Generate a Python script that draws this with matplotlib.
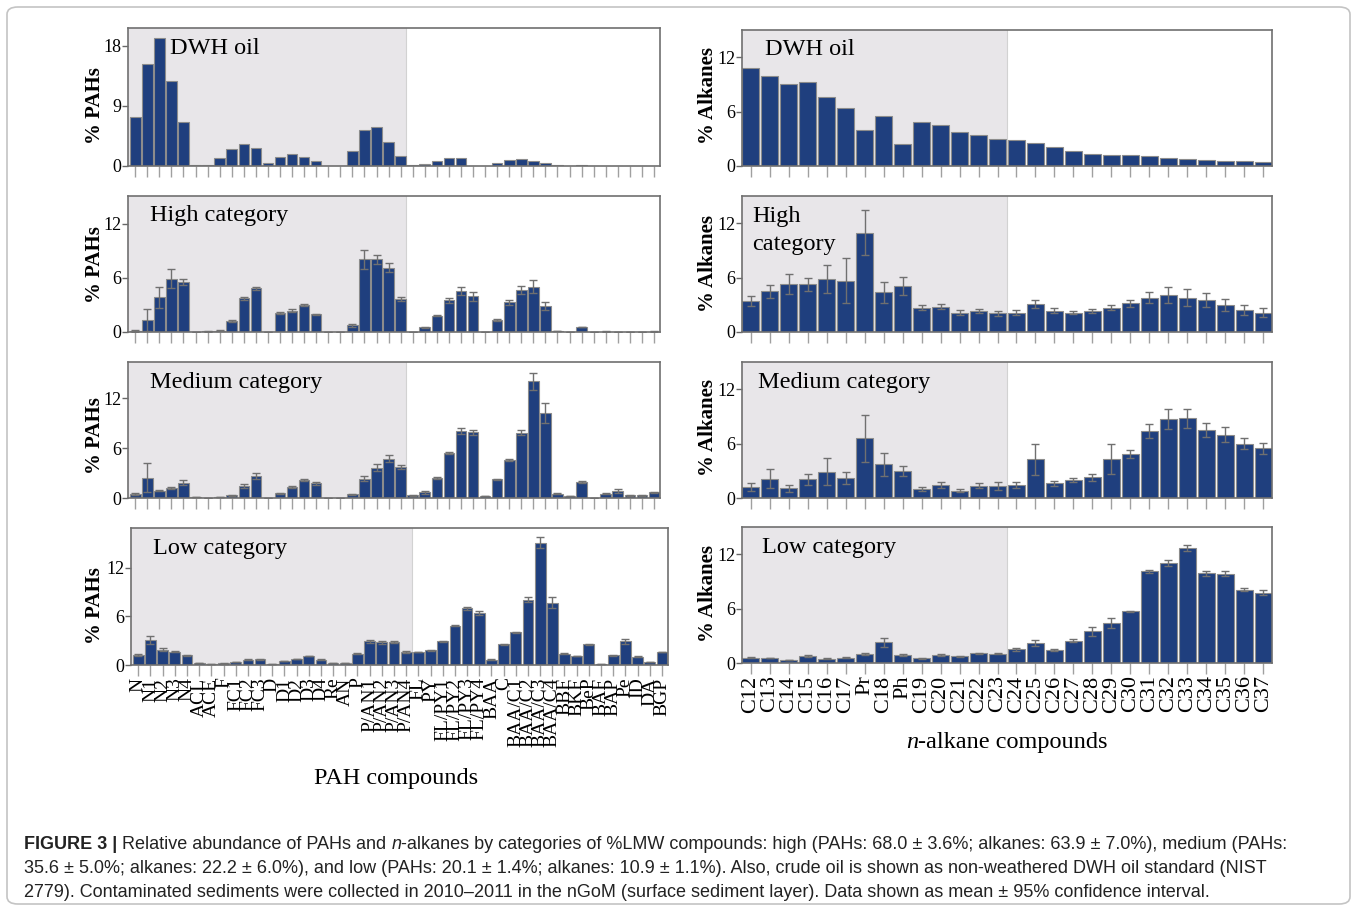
import numpy as np
import matplotlib.pyplot as plt
from matplotlib.patches import FancyBboxPatch

# compound names
pah_labels = ['N', 'N1', 'N2', 'N3', 'N4', 'ACL', 'ACE', 'F', 'FC1', 'FC2', 'FC3',
              'D', 'D1', 'D2', 'D3', 'D4', 'Re', 'AN', 'P', 'P/AN1', 'P/AN2',
              'P/AN3', 'P/AN4', 'FL', 'PY', 'FL/PY1', 'FL/PY2', 'FL/PY3', 'FL/PY4',
              'BAA', 'C', 'BAA/C1', 'BAA/C2', 'BAA/C3', 'BAA/C4', 'BBF', 'BKF',
              'BeP', 'BAF', 'BAP', 'Pe', 'ID', 'DA', 'BGP']
alk_labels = ['C12', 'C13', 'C14', 'C15', 'C16', 'C17', 'Pr', 'C18', 'Ph', 'C19',
              'C20', 'C21', 'C22', 'C23', 'C24', 'C25', 'C26', 'C27', 'C28', 'C29',
              'C30', 'C31', 'C32', 'C33', 'C34', 'C35', 'C36', 'C37']

# % PAHs (mean and 95% CI half-width)
pah_dwh = [7.3, 15.3, 19.2, 12.7, 6.6, 0.2, 0.2, 1.2, 2.55, 3.35, 2.7,
           0.45, 1.3, 1.85, 1.3, 0.7, 0.0, 0.0, 2.25, 5.35, 5.85, 3.65, 1.5,
           0.1, 0.3, 0.7, 1.15, 1.25, 0.0, 0.05, 0.5, 0.9, 1.0, 0.75, 0.5,
           0.1, 0.0, 0.15, 0.0, 0.0, 0.0, 0.0, 0.0, 0.0]
pah_high = [0.1, 1.3, 3.85, 5.9, 5.55, 0.0, 0.1, 0.15, 1.2, 3.75, 4.85,
            0.05, 2.1, 2.35, 3.0, 1.95, 0.0, 0.0, 0.75, 8.05, 8.05, 7.15, 3.65,
            0.05, 0.5, 1.8, 3.5, 4.6, 3.95, 0.05, 1.3, 3.3, 4.7, 5.05, 2.9,
            0.1, 0.0, 0.55, 0.0, 0.05, 0.03, 0.0, 0.0, 0.05]
pah_high_err = [0.1, 1.2, 1.15, 1.05, 0.35, 0.0, 0.05, 0.05, 0.1, 0.15, 0.15,
                0.0, 0.1, 0.15, 0.15, 0.1, 0.0, 0.0, 0.15, 1.0, 0.45, 0.5, 0.2,
                0.0, 0.05, 0.05, 0.25, 0.45, 0.5, 0.0, 0.1, 0.3, 0.45, 0.75, 0.45,
                0.02, 0.0, 0.05, 0.0, 0.02, 0.02, 0.0, 0.0, 0.02]
pah_med = [0.5, 2.45, 0.9, 1.2, 1.85, 0.1, 0.05, 0.1, 0.35, 1.45, 2.65,
           0.05, 0.55, 1.3, 2.2, 1.75, 0.05, 0.05, 0.45, 2.3, 3.65, 4.75, 3.7,
           0.35, 0.7, 2.4, 5.45, 8.1, 7.9, 0.25, 2.25, 4.6, 7.85, 14.05, 10.2,
           0.5, 0.25, 1.9, 0.0, 0.5, 0.85, 0.35, 0.35, 0.7]
pah_med_err = [0.1, 1.75, 0.05, 0.15, 0.3, 0.0, 0.0, 0.0, 0.05, 0.2, 0.4,
               0.0, 0.05, 0.15, 0.15, 0.15, 0.0, 0.0, 0.05, 0.3, 0.45, 0.4, 0.25,
               0.05, 0.2, 0.1, 0.15, 0.35, 0.35, 0.0, 0.1, 0.15, 0.3, 1.05, 1.2,
               0.05, 0.02, 0.1, 0.0, 0.05, 0.25, 0.05, 0.05, 0.05]
pah_low = [1.25, 3.1, 1.9, 1.65, 1.2, 0.25, 0.1, 0.2, 0.4, 0.65, 0.7,
           0.1, 0.5, 0.75, 1.1, 0.65, 0.2, 0.2, 1.4, 2.9, 2.8, 2.8, 1.6,
           1.6, 1.8, 2.9, 4.85, 7.0, 6.45, 0.65, 2.55, 4.05, 8.05, 15.1, 7.7,
           1.4, 1.1, 2.55, 0.1, 1.2, 2.9, 1.0, 0.4, 1.6]
pah_low_err = [0.1, 0.45, 0.15, 0.1, 0.05, 0.02, 0.0, 0.02, 0.02, 0.05, 0.05,
               0.0, 0.02, 0.05, 0.05, 0.05, 0.0, 0.0, 0.1, 0.15, 0.15, 0.1, 0.1,
               0.05, 0.05, 0.1, 0.1, 0.2, 0.25, 0.05, 0.05, 0.05, 0.3, 0.7, 0.7,
               0.05, 0.05, 0.05, 0.0, 0.05, 0.3, 0.05, 0.02, 0.05]

# % alkanes
alk_dwh = [10.8, 9.9, 9.05, 9.25, 7.65, 6.45, 4.0, 5.5, 2.45, 4.9, 4.5, 3.7,
           3.4, 3.0, 2.85, 2.55, 2.1, 1.6, 1.3, 1.25, 1.2, 1.05, 0.9, 0.75,
           0.65, 0.55, 0.5, 0.45]
alk_high = [3.4, 4.5, 5.3, 5.25, 5.85, 5.65, 10.95, 4.4, 5.05, 2.7, 2.8, 2.15,
            2.3, 2.05, 2.15, 3.1, 2.35, 2.15, 2.3, 2.7, 3.15, 3.8, 4.1, 3.8,
            3.5, 3.0, 2.45, 2.15]
alk_high_err = [0.55, 0.7, 1.15, 0.7, 1.55, 2.5, 2.5, 1.15, 1.0, 0.3, 0.3, 0.3,
                0.25, 0.3, 0.3, 0.45, 0.3, 0.2, 0.25, 0.3, 0.4, 0.65, 0.9, 0.9,
                0.75, 0.65, 0.55, 0.55]
alk_med = [1.2, 2.15, 1.05, 2.05, 2.9, 2.2, 6.6, 3.7, 3.0, 1.0, 1.4, 0.8,
           1.35, 1.3, 1.4, 4.25, 1.6, 2.0, 2.3, 4.3, 4.85, 7.4, 8.75, 8.8,
           7.5, 7.0, 6.0, 5.5]
alk_med_err = [0.45, 1.1, 0.35, 0.6, 1.5, 0.7, 2.6, 1.25, 0.55, 0.2, 0.35, 0.15,
               0.25, 0.45, 0.35, 1.75, 0.25, 0.25, 0.4, 1.7, 0.4, 0.75, 1.1, 1.05,
               0.8, 0.8, 0.65, 0.6]
alk_low = [0.6, 0.55, 0.35, 0.75, 0.45, 0.6, 1.0, 2.3, 0.9, 0.5, 0.9, 0.75,
           1.05, 1.0, 1.5, 2.2, 1.4, 2.45, 3.5, 4.45, 5.7, 10.1, 11.0, 12.7,
           9.9, 9.85, 8.1, 7.75]
alk_low_err = [0.05, 0.05, 0.03, 0.08, 0.05, 0.05, 0.1, 0.5, 0.1, 0.03, 0.08, 0.05,
               0.08, 0.06, 0.15, 0.35, 0.1, 0.15, 0.5, 0.55, 0.08, 0.2, 0.35, 0.3,
               0.25, 0.25, 0.2, 0.25]

W, H = 1357, 910
BAR = '#1f3f7e'
SHADE = '#e8e6e9'
SERIF = 'Liberation Serif'
CAP_FONT = 'Liberation Sans'

fig = plt.figure(figsize=(W / 100, H / 100), dpi=100)


def px_rect(l, r, t, b):
    return [l / W, 1 - b / H, (r - l) / W, (b - t) / H]


def panel(rect, vals, errs, ylim, yticks, xlim, split, title, txy,
          labels=None, lsize=15):
    ax = fig.add_axes(rect)
    x = np.arange(len(vals))
    ax.axvspan(xlim[0], split, color=SHADE, lw=0, zorder=0)
    ax.axvline(split, color='#d2d2d2', lw=0.8, zorder=0.5)
    ax.bar(x, vals, width=0.88, color=BAR, edgecolor='#8c8c8c', lw=0.8, zorder=2)
    if errs is not None:
        ax.errorbar(x, vals, yerr=errs, fmt='none', ecolor='#707070',
                    elinewidth=1, capsize=3, capthick=1, zorder=3)
    ax.set_xlim(*xlim)
    ax.set_ylim(0, ylim)
    ax.set_yticks(yticks)
    ax.set_yticklabels([str(t) for t in yticks], family=SERIF, fontsize=13)
    ax.set_xticks(x)
    if labels is None:
        ax.set_xticklabels([])
    else:
        ax.set_xticklabels(labels, rotation=90, family=SERIF, fontsize=lsize)
    ax.tick_params(axis='x', length=8, width=1, color='#a0a0a0', pad=1)
    ax.tick_params(axis='y', length=4, width=1, color='#666666', pad=1)
    for s in ax.spines.values():
        s.set_color('#707070')
        s.set_linewidth(1.2)
    ax.text(txy[0], txy[1], title, transform=ax.transAxes, family=SERIF,
            fontsize=17.5, ha='left', va='center', linespacing=1.45, zorder=4)
    return ax


rows = [(28, 166), (196, 332), (362, 498), (528, 665)]
pah_sets = [(pah_dwh, None, 20.7, [0, 9, 18], 'DWH oil', (0.079, 0.855)),
            (pah_high, pah_high_err, 15.1, [0, 6, 12], 'High category', (0.041, 0.853)),
            (pah_med, pah_med_err, 16.4, [0, 6, 12], 'Medium category', (0.041, 0.846)),
            (pah_low, pah_low_err, 16.9, [0, 6, 12], 'Low category', (0.041, 0.854))]
for i, (v, e, yl, yt, ttl, txy) in enumerate(pah_sets):
    t, b = rows[i]
    l, r = (131, 668) if i == 3 else (128, 660)
    panel(px_rect(l, r, t, b), v, e, yl, yt, (-0.6, 43.5), 22.45, ttl, txy,
          labels=pah_labels if i == 3 else None, lsize=14)

alk_rows = [(30, 166), (196, 332), (362, 498), (527, 663)]
alk_sets = [(alk_dwh, None, 'DWH oil', (0.043, 0.853)),
            (alk_high, alk_high_err, 'High\ncategory', (0.019, 0.746)),
            (alk_med, alk_med_err, 'Medium category', (0.03, 0.846)),
            (alk_low, alk_low_err, 'Low category', (0.038, 0.846))]
for i, (v, e, ttl, txy) in enumerate(alk_sets):
    t, b = alk_rows[i]
    panel(px_rect(742, 1272, t, b), v, e, 15.0, [0, 6, 12], (-0.45, 27.45), 13.48,
          ttl, txy, labels=alk_labels if i == 3 else None, lsize=16)

# y axis titles
for yc in [106, 265, 436, 606]:
    fig.text(95 / W, 1 - yc / H, '% PAHs', rotation=90, family=SERIF,
             fontweight='bold', fontsize=15, ha='center', va='center')
for yc in [96, 263, 428, 594]:
    fig.text(708 / W, 1 - yc / H, '% Alkanes', rotation=90, family=SERIF,
             fontweight='bold', fontsize=15, ha='center', va='center')

renderer = fig.canvas.get_renderer()


def run_width(s, props):
    a = fig.text(0, 0, 'x' + s + 'x', **props)
    w1 = a.get_window_extent(renderer).width
    a.remove()
    a = fig.text(0, 0, 'xx', **props)
    w0 = a.get_window_extent(renderer).width
    a.remove()
    return w1 - w0


def draw_runs(x, y, runs, center=False):
    widths = [run_width(s, p) for s, p in runs]
    if center:
        x = x - sum(widths) / 2
    for (s, p), w in zip(runs, widths):
        fig.text(x / W, 1 - y / H, s, va='baseline', ha='left', **p)
        x += w


fig.text(396 / W, 1 - 784 / H, 'PAH compounds', family=SERIF, fontsize=17.5,
         ha='center', va='baseline')
draw_runs(1007, 748, [('n', dict(family=SERIF, fontsize=17.5, style='italic')),
                      ('-alkane compounds', dict(family=SERIF, fontsize=17.5))],
          center=True)

# caption
reg = dict(family=CAP_FONT, fontsize=13.0, color='#222222')
bold = dict(reg, fontweight='bold')
ital = dict(reg, style='italic')
caption = [
    [('FIGURE 3 |', bold), (' Relative abundance of PAHs and ', reg), ('n', ital),
     ('-alkanes by categories of %LMW compounds: high (PAHs: 68.0 \u00b1 3.6%; '
      'alkanes: 63.9 \u00b1 7.0%), medium (PAHs:', reg)],
    [('35.6 \u00b1 5.0%; alkanes: 22.2 \u00b1 6.0%), and low (PAHs: 20.1 \u00b1 1.4%; '
      'alkanes: 10.9 \u00b1 1.1%). Also, crude oil is shown as non-weathered DWH oil '
      'standard (NIST', reg)],
    [('2779). Contaminated sediments were collected in 2010\u20132011 in the nGoM '
      '(surface sediment layer). Data shown as mean \u00b1 95% confidence interval.', reg)],
]
for k, line in enumerate(caption):
    draw_runs(24, 849 + 24 * k, line)

frame = FancyBboxPatch((7 / W, 6 / H), (W - 14) / W, (H - 13) / H,
                       boxstyle='round,pad=0,rounding_size=0.008',
                       transform=fig.transFigure, fill=False,
                       edgecolor='#c4c4c4', lw=1.2)
fig.patches.append(frame)

fig.savefig('out.png', dpi=100)
